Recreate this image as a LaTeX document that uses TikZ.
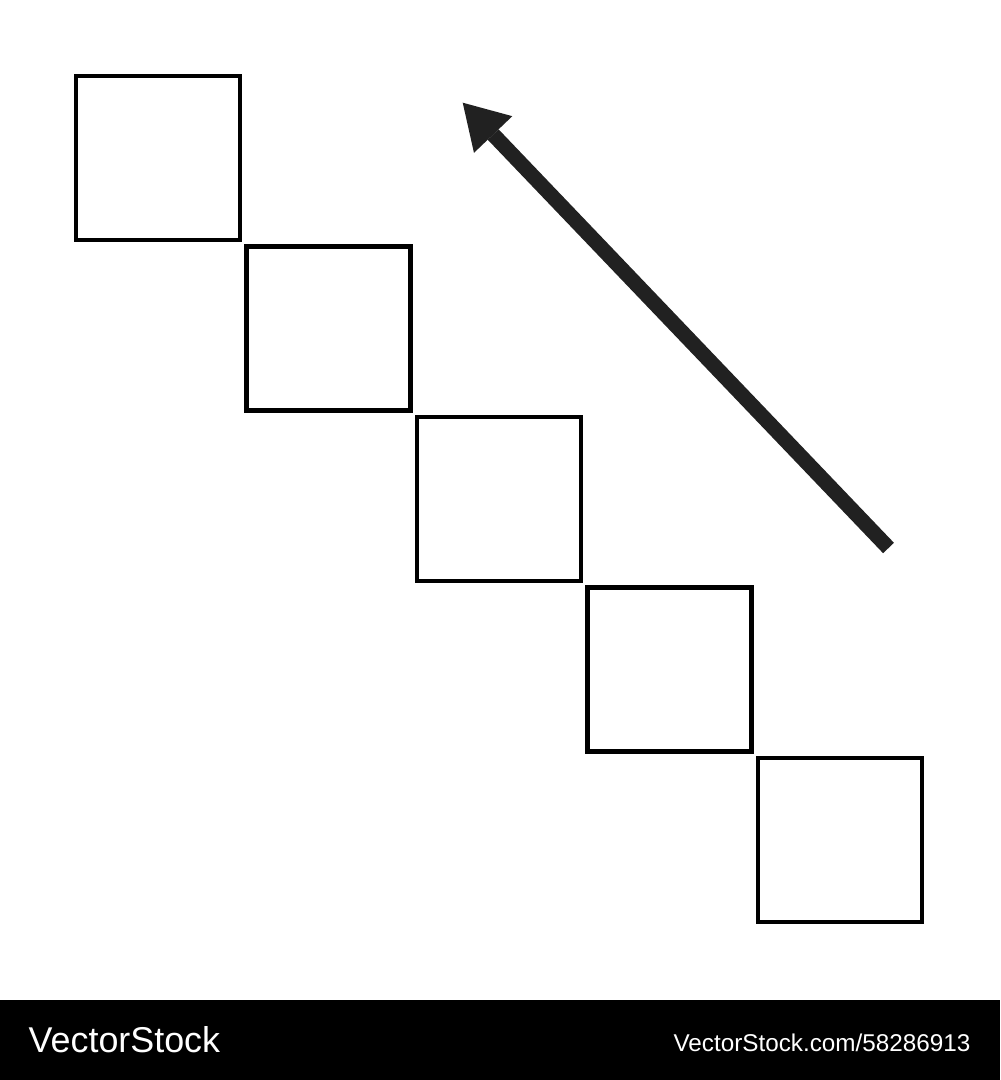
\documentclass[tikz,border=0pt]{standalone}
\usepackage{fontspec}
\setmainfont{Liberation Sans}
\usepackage{tikz}
\usetikzlibrary{positioning, arrows.meta}

\begin{document}
\begin{tikzpicture}[x=0.01cm,y=-0.01cm,
        stair/.style={rectangle,draw=black,line width=0.048cm,minimum size=1.64cm,inner sep=0pt},
        bigarrow/.style={draw=black!87,line width=0.15cm,line cap=butt,
            -{Triangle[length=0.44cm,width=0.53cm,line width=0pt]}},
        wmtext/.style={text=white,inner sep=0pt}]

        \useasboundingbox[fill=white] (0,0) rectangle (1000,1080);

        \foreach \i in {1,...,5}
            \node[stair] (s\i) at ({158+170.5*(\i-1)},{158+170.5*(\i-1)}) {};

        \coordinate (tail) at (888.5,548);
        \coordinate (tip)  at (462.7,102.7);
        \path (tail) edge [bigarrow] (tip);

        % banner
        \fill[black] (0,1000) rectangle (1000,1080);
        \node[wmtext,anchor=base west,font=\fontsize{10.2pt}{12pt}\selectfont] (brand) at (28,1052) {VectorStock};
        \node[wmtext,anchor=base east,font=\fontsize{6.9pt}{8pt}\selectfont] (ref) at (971,1051) {VectorStock.com/58286913};
\end{tikzpicture}
\end{document}
